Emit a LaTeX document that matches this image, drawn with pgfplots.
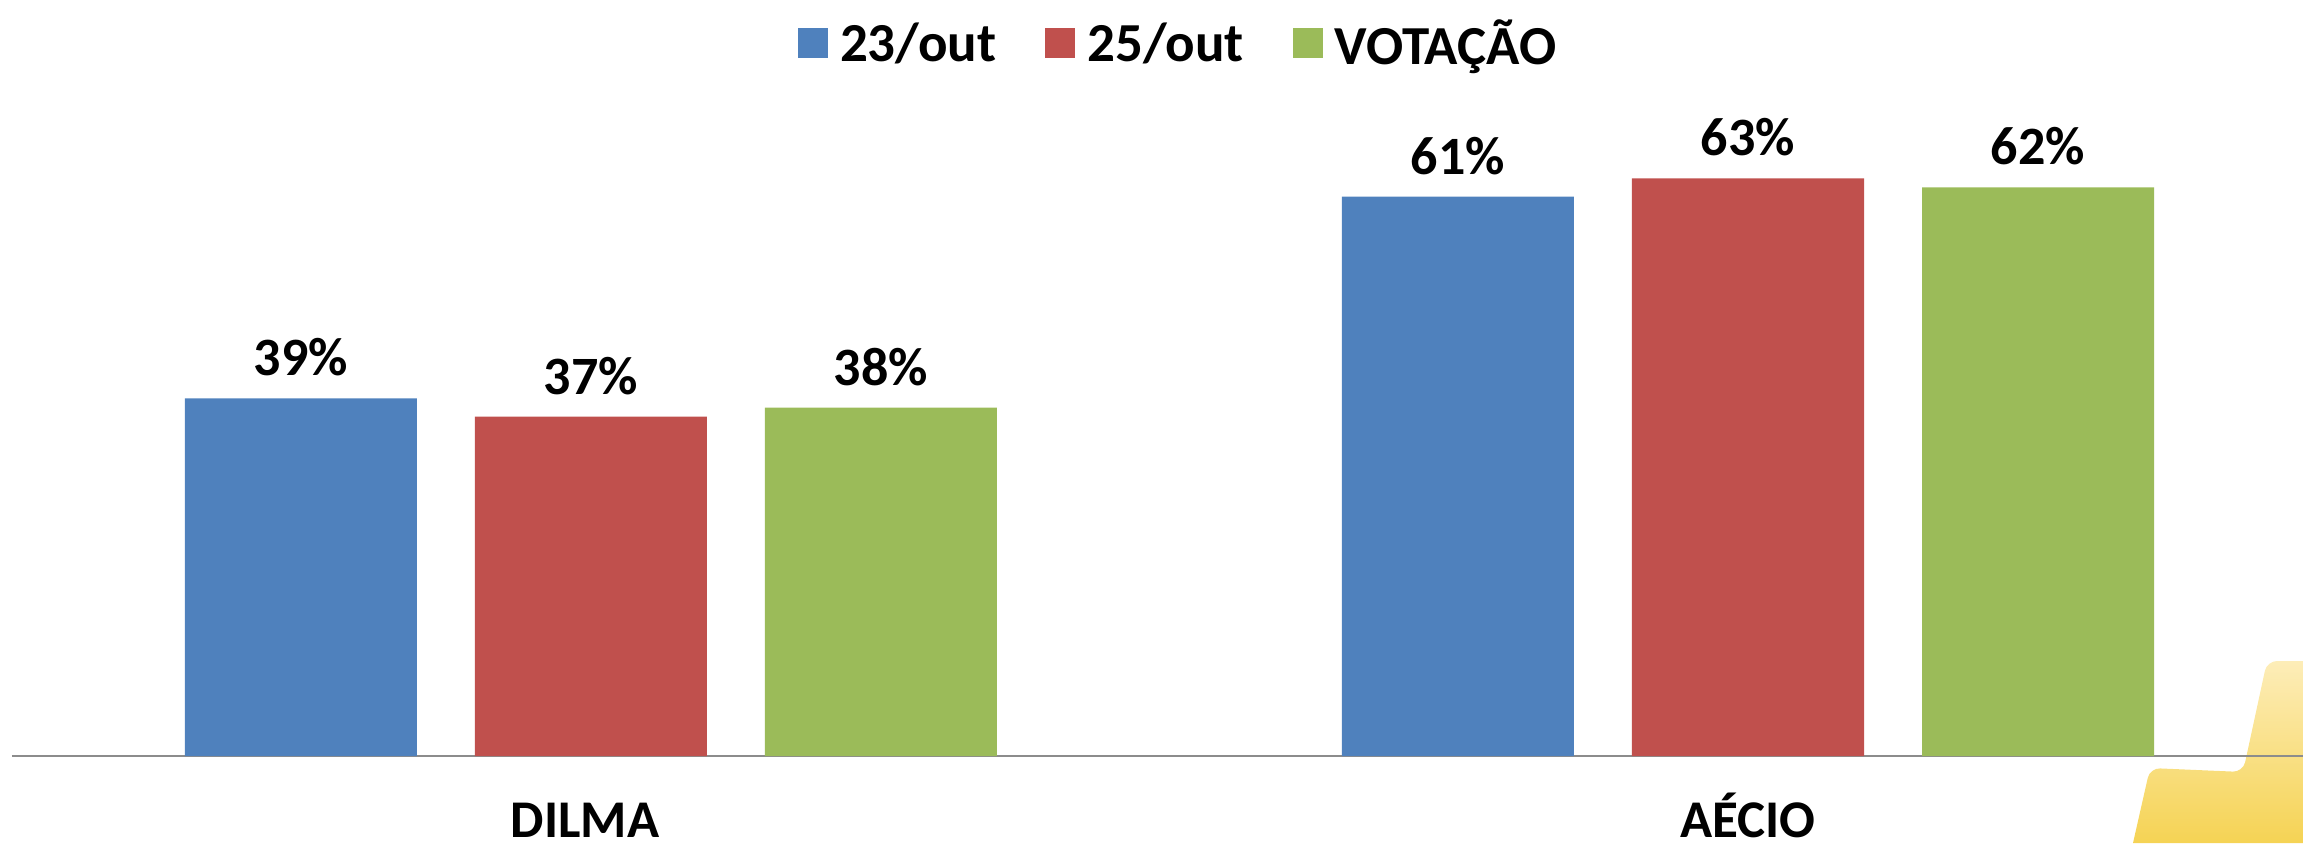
\documentclass[border=0pt]{standalone}
\usepackage{pgfplots}
\pgfplotsset{compat=1.18}
\usepackage{fontspec}
\setmainfont{Carlito}
\definecolor{cblue}{HTML}{4F81BD}
\definecolor{cred}{HTML}{C0504D}
\definecolor{cgreen}{HTML}{9BBB59}
\definecolor{caxis}{HTML}{8C8C8C}
\definecolor{stara}{HTML}{FDEDB8}
\definecolor{starb}{HTML}{FDE68A}
\definecolor{starc}{HTML}{F5D354}
\begin{document}
\begin{tikzpicture}[x=0.5pt,y=0.5pt]
\path[use as bounding box] (-12,-87) rectangle (2291,756);
% decorative star corner, behind the axis
\shade[top color=stara,middle color=starb,bottom color=starc,draw=none]
  (2121,-87) [rounded corners=5pt] -- (2138,-12) -- (2231,-16) -- (2255,95) [rounded corners=0pt] -- (2291,95) -- (2291,-87) -- cycle;
\begin{axis}[
  at={(0,0)},anchor=south west,
  scale only axis,
  width=1145.5pt,height=377.5pt,
  xmin=-0.5004,xmax=1.4797,
  ymin=0,ymax=82.33,
  axis y line=none,
  axis x line=bottom,
  axis line style={draw=caxis,line width=0.75pt,-},
  x axis line style={-},
  xtick={-0.005,1},
  xticklabels={DILMA,AÉCIO},
  xtick style={draw=none},
  /pgf/number format/assume math mode=true,
  x tick label style={font=\fontsize{26.5}{31}\selectfont\bfseries,anchor=north,inner ysep=0pt,text height=24pt,text depth=0pt,yshift=-12.5pt},
  ybar=29pt,
  bar width=116pt,
  nodes near coords={\pgfmathprintnumber{\pgfplotspointmeta}\%},
  every node near coord/.append style={font=\fontsize{27}{32}\selectfont\bfseries,text=black,yshift=7.5pt},
  legend columns=3,
  legend style={draw=none,fill=none,at={(0.5095,0.944)},anchor=center,
    font=\fontsize{27.5}{32}\selectfont\bfseries,
    /tikz/every even column/.style={column sep=22.5pt}},
  legend image code/.code={\fill[#1,draw=none] (0pt,-7.5pt) rectangle (15pt,7.5pt);\path (19pt,0pt);},
]
\addplot[fill=cblue,draw=none] coordinates {(0,39) (1,61)};
\addplot[fill=cred,draw=none] coordinates {(0,37) (1,63)};
\addplot[fill=cgreen,draw=none] coordinates {(0,38) (1,62)};
\legend{23/out,25/out,VOTAÇÃO}
\end{axis}
\end{tikzpicture}
\end{document}
